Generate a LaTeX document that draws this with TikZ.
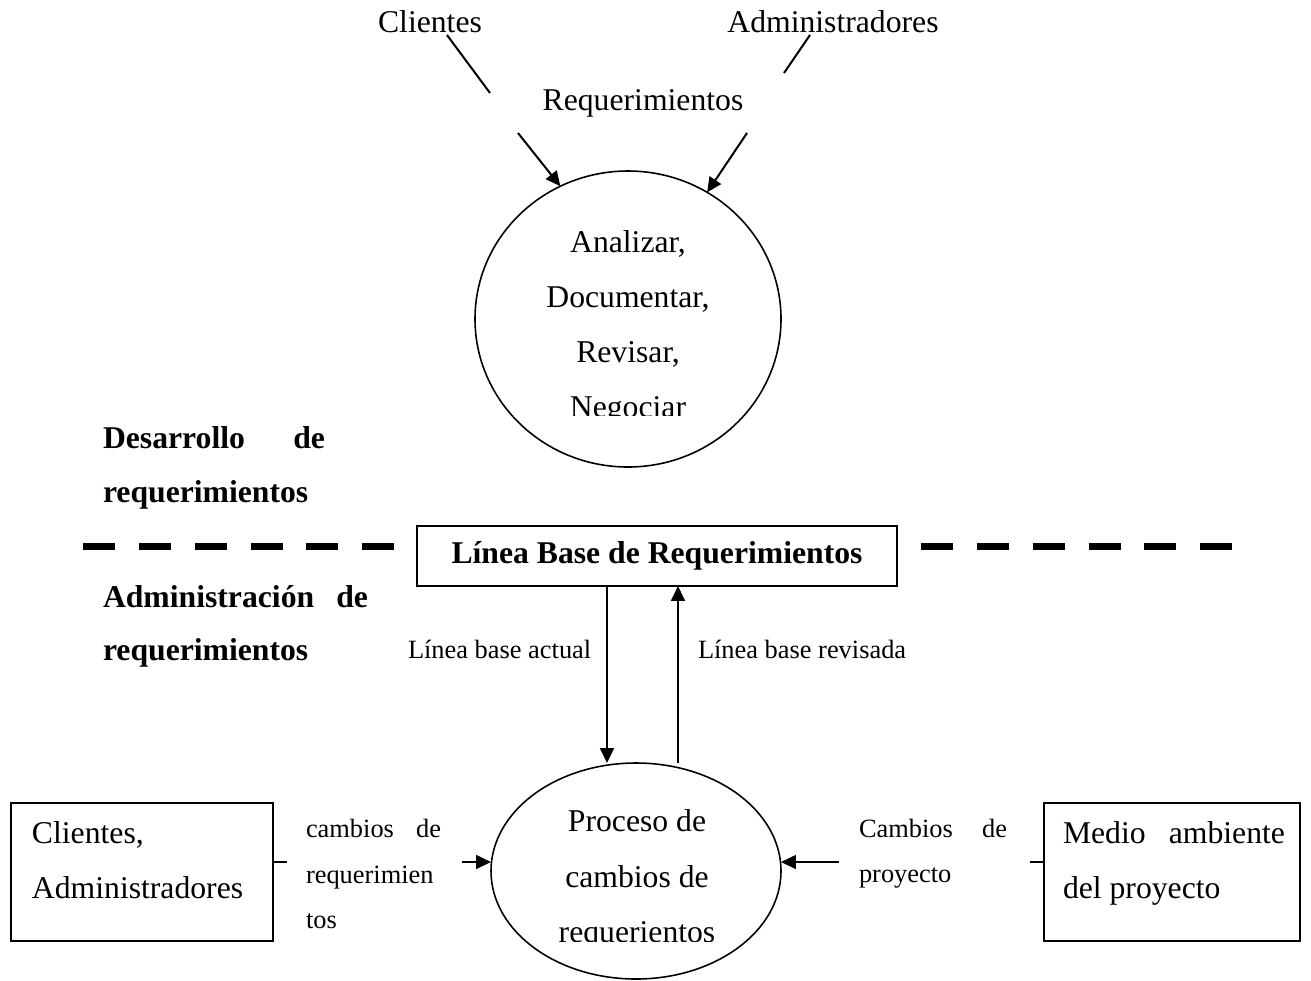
\documentclass[tikz,border=0pt]{standalone}
\usepackage{fontspec}
\setmainfont{Liberation Serif}
\usetikzlibrary{arrows.meta,shapes.geometric,calc}
\newdimen\pxd
\pxd=0.3788pt
\begin{document}
\begin{tikzpicture}[x=0.3788pt, y=-0.3788pt,
  every node/.style={inner sep=0pt, outer sep=0pt},
  rm/.style={font=\fontsize{12}{14}\selectfont},
  sm/.style={font=\fontsize{10}{12}\selectfont},
  bf/.style={font=\fontsize{12}{14}\selectfont\bfseries},
  conn/.style={line width=0.76pt},
  arr/.style={conn, -{Triangle[length=5.6pt,width=5.2pt]}},
  bubble/.style={draw, ellipse, line width=0.6pt},
  frame/.style={draw, line width=0.76pt, fill=white},
  divider/.style={line width=2.65pt, dash pattern=on 12.12pt off 9.04pt}]

\fill[white] (0,0) rectangle (1311,980);
\useasboundingbox (0,0) rectangle (1311,980);

% sources of the requirements
\node[rm, anchor=base] (cli) at (430,32) {Clientes};
\node[rm, anchor=base] (adm) at (833,32) {Administradores};
\node[rm, anchor=base] (req) at (643,110) {Requerimientos};

% development process
\node[bubble, minimum width=306*\pxd, minimum height=296*\pxd] (dev) at (628,319) {};
\begin{scope}
  \clip (470,170) rectangle (790,415);
  \node[rm, anchor=base] (dev1) at (628,252) {Analizar,};
  \node[rm, anchor=base] (dev2) at (628,307) {Documentar,};
  \node[rm, anchor=base] (dev3) at (628,362) {Revisar,};
  \node[rm, anchor=base] (dev4) at (628,417) {Negociar};
\end{scope}

% incoming requirement flows, broken around the label
\coordinate (c1) at (447,35);
\coordinate (c2) at (490,93);
\coordinate (c3) at (518,133);
\draw[conn] (c1) -- (c2);
\draw[arr] (c3) -- (dev.117);
\coordinate (c4) at (810,35);
\coordinate (c5) at (784,73);
\coordinate (c6) at (747,133);
\draw[conn] (c4) -- (c5);
\draw[arr] (c6) -- (dev.58);

% stage labels
\node[bf, anchor=base west] (dsl1) at (103,448) {\makebox[222\pxd][s]{Desarrollo de}};
\node[bf, anchor=base west] (dsl2) at (103,502) {requerimientos};
\node[bf, anchor=base west] (adl1) at (103,607) {\makebox[265\pxd][s]{Administración de}};
\node[bf, anchor=base west] (adl2) at (103,660) {requerimientos};

% boundary between the two stages
\coordinate (dl) at (83,546);
\coordinate (dr) at (1235,546);
\draw[divider] (dl) -- (dr);

% requirements baseline
\node[frame, bf, minimum width=480*\pxd, minimum height=60*\pxd] (base) at (657,556) {Línea Base de Requerimientos};

% change process
\node[bubble, minimum width=290*\pxd, minimum height=216*\pxd] (pcr) at (636,871) {};
\begin{scope}
  \clip (480,760) rectangle (800,941);
  \node[rm, anchor=base] (pcr1) at (637,831) {Proceso de};
  \node[rm, anchor=base] (pcr2) at (637,887) {cambios de};
  \node[rm, anchor=base] (pcr3) at (637,942) {requerientos};
\end{scope}

% baseline in and out
\coordinate (bd) at ($(base.south)+(-50,0)$);
\draw[arr] (bd) -- (bd |- pcr.north);
\coordinate (bu) at ($(base.south)+(21,0)$);
\draw[arr] (bu |- pcr.north) -- (bu);
\node[sm, anchor=base west] (cur) at (408,658) {Línea base actual};
\node[sm, anchor=base west] (rev) at (698,658) {Línea base revisada};

% customers and managers
\node[frame, minimum width=262*\pxd, minimum height=138*\pxd] (cab) at (142,872) {};
\node[rm, anchor=base west] (cab1) at (32,843) {Clientes,};
\node[rm, anchor=base west] (cab2) at (32,898) {Administradores};
\coordinate (s1) at ($(cab.east)+(0,-10)$);
\draw[conn] (s1) -- ++(14,0);
\coordinate (a1) at (462,862);
\draw[arr] (a1) -- ($(pcr.west)+(0,-9)$);
\node[sm, anchor=base west] (cr1) at (306,837) {\makebox[135\pxd][s]{cambios de}};
\node[sm, anchor=base west] (cr2) at (306,883) {requerimien};
\node[sm, anchor=base west] (cr3) at (306,928) {tos};

% project environment
\node[frame, minimum width=256*\pxd, minimum height=138*\pxd] (mab) at (1172,872) {};
\node[rm, anchor=base west] (mab1) at (1063,843) {\makebox[222\pxd][s]{Medio ambiente}};
\node[rm, anchor=base west] (mab2) at (1063,898) {del proyecto};
\coordinate (s2) at ($(mab.west)+(0,-10)$);
\draw[conn] (s2) -- ++(-14,0);
\coordinate (a2) at (839,862);
\draw[arr] (a2) -- ($(pcr.east)+(0,-9)$);
\node[sm, anchor=base west] (cp1) at (859,837) {\makebox[148\pxd][s]{Cambios de}};
\node[sm, anchor=base west] (cp2) at (859,882) {proyecto};
\end{tikzpicture}
\end{document}
